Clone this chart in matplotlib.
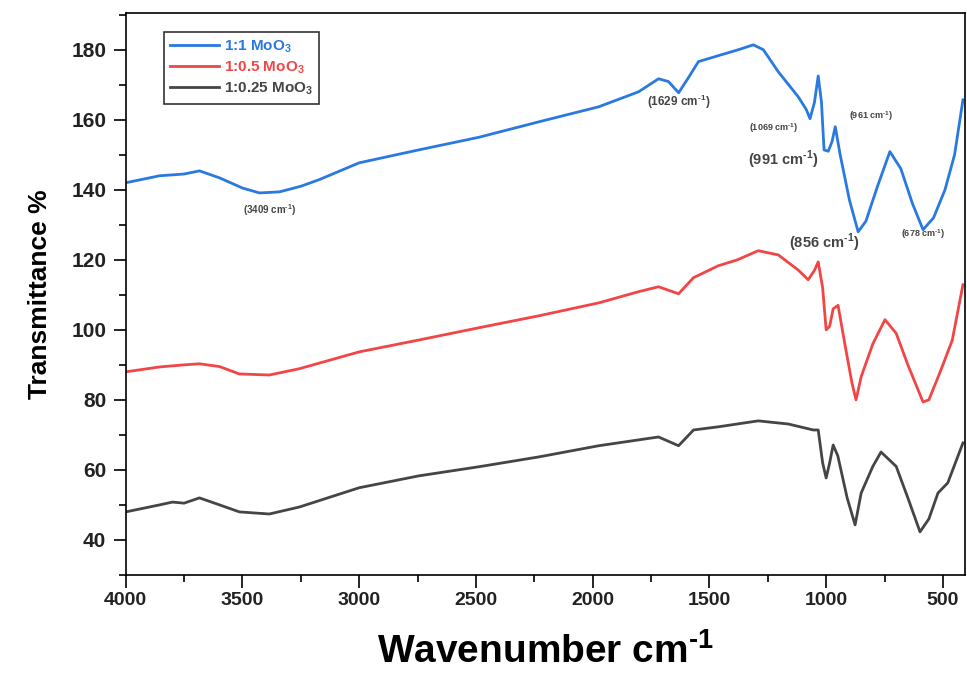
import numpy as np
import matplotlib
matplotlib.use('Agg')
import matplotlib.pyplot as plt
from matplotlib.ticker import MultipleLocator

plt.rcParams['font.family'] = ['Liberation Sans', 'DejaVu Sans']
plt.rcParams['mathtext.fontset'] = 'custom'
plt.rcParams['mathtext.rm'] = 'Liberation Sans:bold'
plt.rcParams['mathtext.bf'] = 'Liberation Sans:bold'

# FTIR spectra
wn_11 = [4000, 3855, 3750, 3684, 3598, 3500, 3427, 3342, 3250, 3171, 3000, 2744, 2487,
         2231, 1974, 1803, 1718, 1675, 1632, 1590, 1547, 1462, 1376, 1312, 1269, 1205,
         1120, 1085, 1069, 1050, 1034, 1020, 1009, 991, 975, 961, 940, 900, 863, 830,
         780, 727, 680, 630, 585, 540, 491, 450, 414]
t_11 = [142, 144, 144.5, 145.4, 143.4, 140.5, 139.1, 139.4, 141, 142.9, 147.7, 151.4, 155,
        159.4, 163.7, 168, 171.7, 170.9, 167.7, 172, 176.6, 178.3, 180, 181.4, 180, 173.7,
        166.6, 162.9, 160.3, 165, 172.5, 165, 151.4, 151, 153.7, 158, 150, 137, 128, 131,
        141, 150.9, 146, 136, 128.6, 132, 140, 150, 165.7]

wn_105 = [4000, 3855, 3750, 3684, 3598, 3513, 3385, 3256, 3000, 2744, 2487, 2231, 1974,
          1803, 1718, 1632, 1568, 1462, 1380, 1291, 1205, 1120, 1077, 1050, 1034, 1015,
          1000, 985, 970, 949, 920, 890, 872, 850, 800, 748, 700, 650, 585, 560, 508, 460, 414]
t_105 = [88, 89.4, 90, 90.3, 89.5, 87.4, 87.1, 88.9, 93.7, 97.1, 100.6, 104, 107.7,
         110.9, 112.3, 110.3, 114.9, 118.3, 120, 122.6, 121.4, 117.1, 114.3, 117, 119.4, 112,
         100, 101, 106, 107, 96, 85, 80, 86.6, 96, 102.9, 99, 90, 79.4, 80, 88.6, 97, 112.9]

wn_1025 = [4000, 3855, 3800, 3750, 3684, 3598, 3513, 3385, 3256, 3000, 2744, 2487, 2231,
           1974, 1718, 1632, 1568, 1462, 1291, 1162, 1055, 1034, 1015, 1000, 985, 970, 950,
           910, 876, 850, 800, 765, 700, 650, 598, 560, 521, 479, 414]
t_1025 = [48, 50, 50.8, 50.5, 52, 50, 48, 47.4, 49.4, 54.9, 58.3, 60.9, 63.7,
          66.9, 69.4, 66.9, 71.4, 72.3, 74, 73.1, 71.4, 71.4, 62, 57.7, 62, 67.1, 64,
          52, 44.3, 53.4, 61, 65.1, 61, 52, 42.3, 46, 53.4, 56.3, 67.7]

series_labels = [r'1:1 MoO$_3$', r'1:0.5 MoO$_3$', r'1:0.25 MoO$_3$']
colors = ['#2979e0', '#f24545', '#454545']

# peak labels: text, x, y, size
peaks = [(r'(3409 cm$^{\text{-1}}$)', 3385, 134.3, 7),
         (r'(1629 cm$^{\text{-1}}$)', 1632, 165.1, 8.5),
         (r'(1069 cm$^{\text{-1}}$)', 1226, 157.7, 6.5),
         (r'(961 cm$^{\text{-1}}$)', 808, 160.9, 6.5),
         (r'(991 cm$^{\text{-1}}$)', 1184, 148.6, 10.5),
         (r'(856 cm$^{\text{-1}}$)', 1009, 124.9, 10.5),
         (r'(678 cm$^{\text{-1}}$)', 585, 127.4, 6.5)]

fig = plt.figure(figsize=(9.67, 6.82), dpi=100)
ax = fig.add_axes([0.130, 0.157, 0.868, 0.824])

for xs, ys, lab, c in zip([wn_11, wn_105, wn_1025], [t_11, t_105, t_1025], series_labels, colors):
    ax.plot(xs, ys, color=c, lw=2, label=lab)

for txt, x, y, s in peaks:
    ax.text(x, y, txt, ha='center', va='center', fontsize=s, color='#444444', fontweight='bold')

ax.set_xlim(4000, 405)
ax.set_ylim(30, 190.5)
ax.xaxis.set_major_locator(MultipleLocator(500))
ax.xaxis.set_minor_locator(MultipleLocator(250))
ax.yaxis.set_major_locator(MultipleLocator(20))
ax.yaxis.set_minor_locator(MultipleLocator(10))
ax.tick_params(which='major', direction='out', length=9, width=1.2, pad=5)
ax.tick_params(axis='y', labelsize=15)
ax.tick_params(axis='x', labelsize=14, pad=3)
ax.tick_params(which='minor', direction='out', length=5, width=1.2)
for lab in ax.get_xticklabels() + ax.get_yticklabels():
    lab.set_fontweight('bold')
    lab.set_color('#222222')
for sp in ax.spines.values():
    sp.set_linewidth(1.2)

ax.set_ylabel('Transmittance %', fontsize=19, fontweight='bold', labelpad=14)
ax.set_xlabel(r'Wavenumber cm$^{\text{-1}}$', fontsize=28, fontweight='bold', labelpad=18)

leg = ax.legend(loc='upper left', bbox_to_anchor=(0.046, 0.966), fancybox=False,
                edgecolor='black', handlelength=3.2, handletextpad=0.3,
                borderaxespad=0, labelspacing=0.3, prop={'weight': 'bold', 'size': 11})
leg.get_frame().set_linewidth(1.2)
for t, c in zip(leg.get_texts(), colors):
    t.set_color(c)

fig.savefig('out.png', dpi=100)
